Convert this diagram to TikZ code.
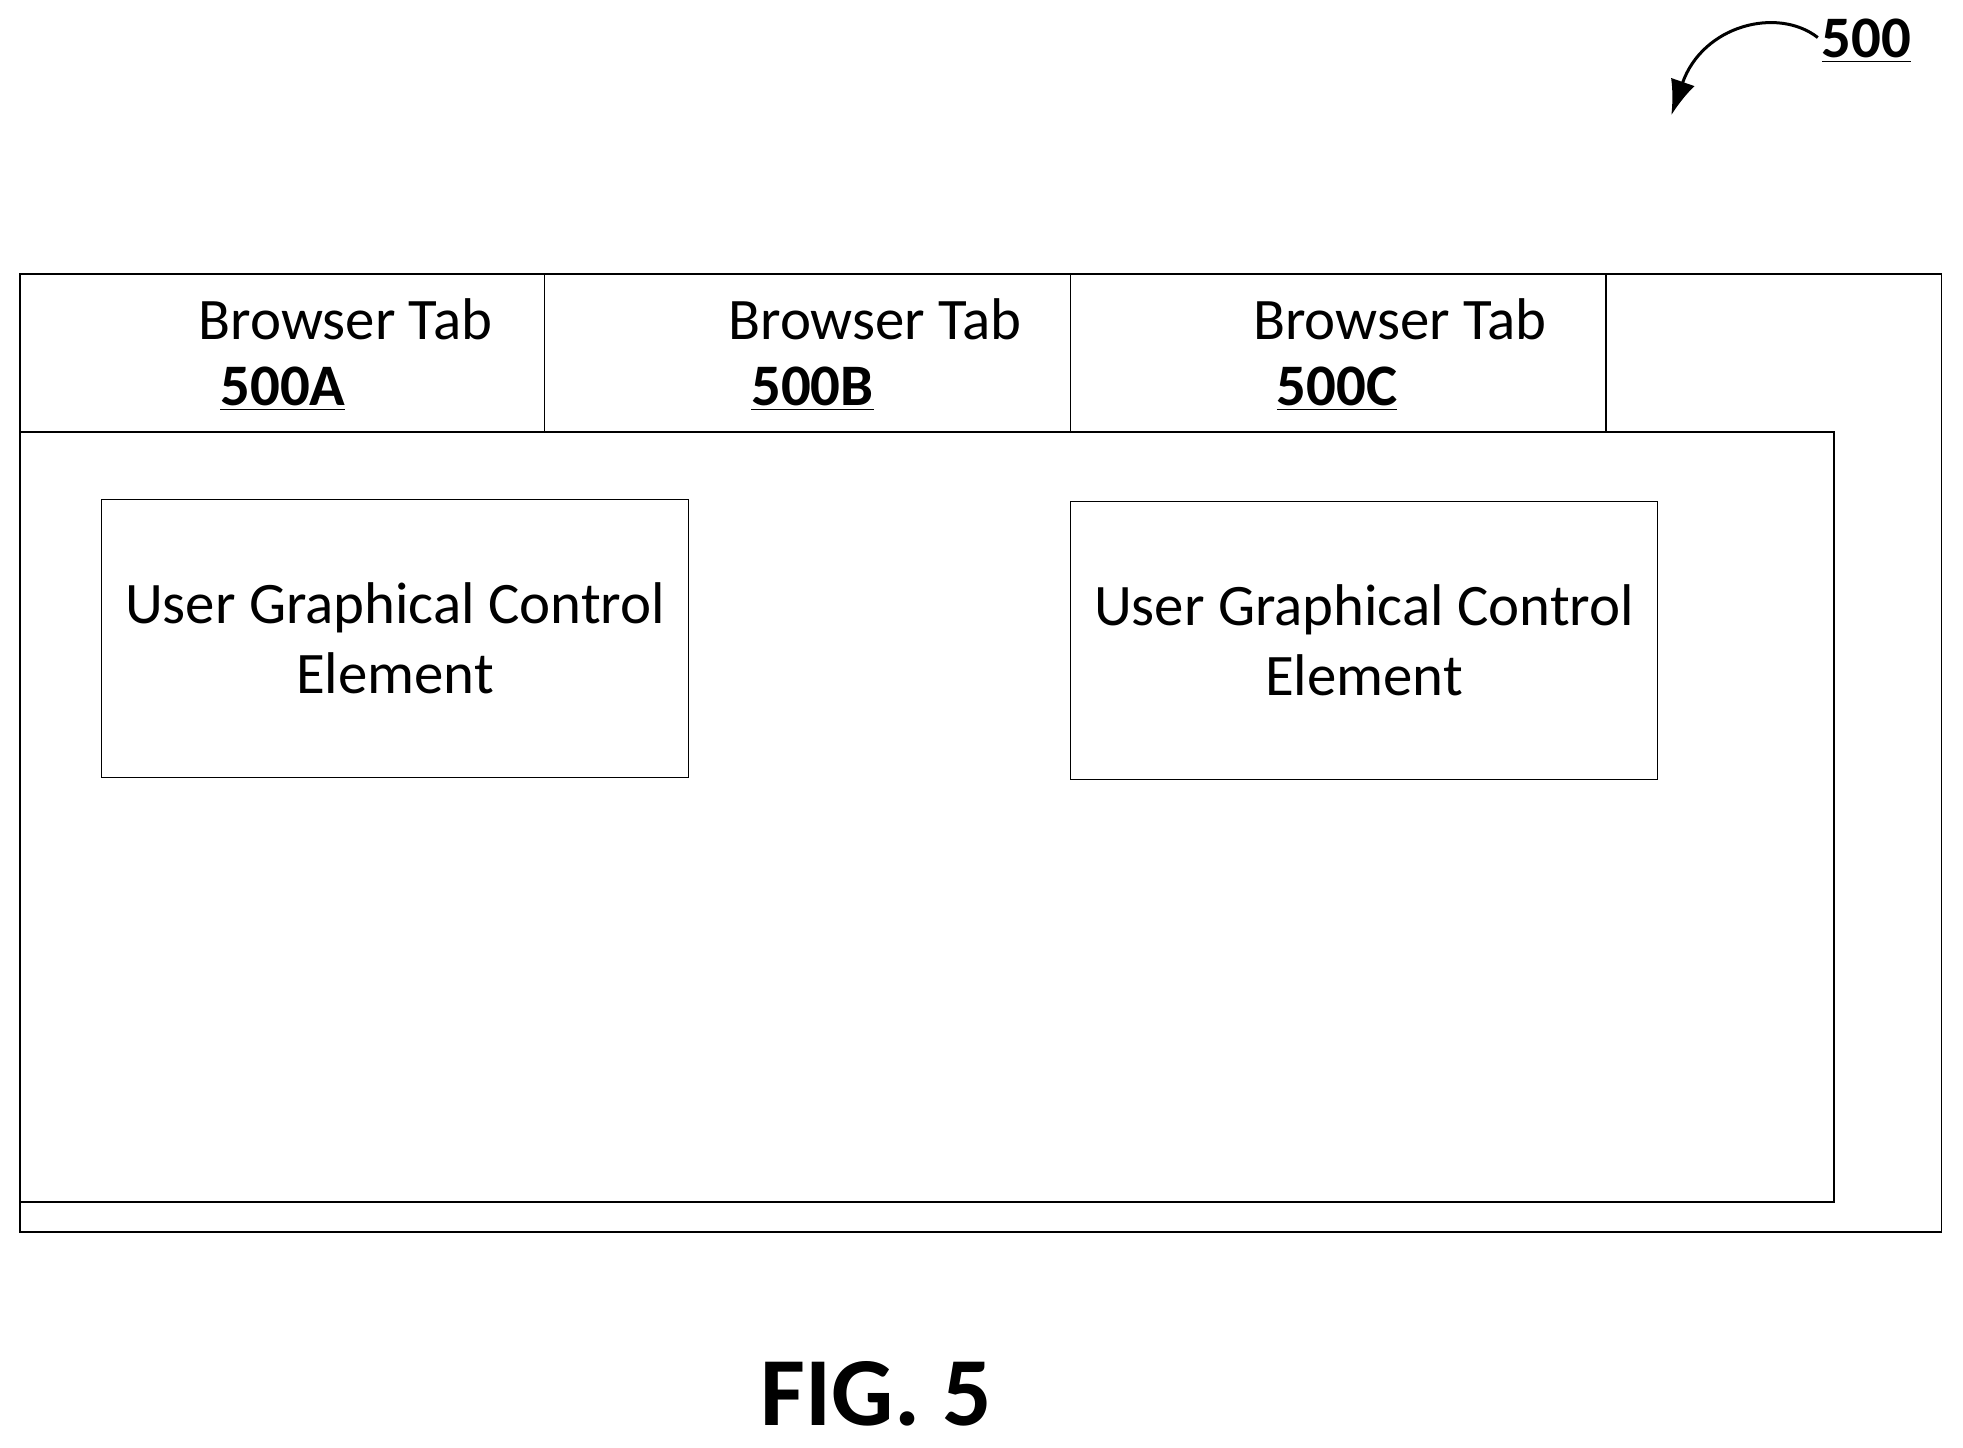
\documentclass[tikz,border=0pt]{standalone}
\usepackage{fontspec}
\setmainfont{Carlito}
\usetikzlibrary{arrows.meta}
\begin{document}
\begin{tikzpicture}[x=0.5pt,y=-0.5pt,
  box/.style={draw,line width=0.6pt},
  lbl/.style={font=\fontsize{23.5}{28}\selectfont,inner sep=0},
  num/.style={font=\fontsize{23.5}{28}\selectfont\bfseries,inner sep=0},
  ctl/.style={draw,line width=0.6pt,minimum width=234.5pt,minimum height=111pt,align=center,font=\fontsize{23.5}{28}\selectfont}]
\useasboundingbox (0,0) rectangle (1568,1156);
\draw[box] (16,219) rectangle (1551,984);
\draw[box] (16,345) rectangle (1465,960);
\draw[box] (435,219) -- (435,345);
\draw[box] (855,219) -- (855,345);
\draw[box] (1283,219) -- (1283,345);
\node[lbl] (ta) at (276,255) {Browser Tab};
\node[num] (na) at (226,311) {\underline{500A}};
\node[lbl] (tb) at (699,255) {Browser Tab};
\node[num] (nb) at (649,311) {\underline{500B}};
\node[lbl] (tc) at (1118,255) {Browser Tab};
\node[num] (nc) at (1068,311) {\underline{500C}};
\node[ctl] (c1) at (315.5,510) {User Graphical Control\\Element};
\node[ctl] (c2) at (1089.5,511.5) {User Graphical Control\\Element};
\node[font=\fontsize{39}{44}\selectfont\bfseries,inner sep=0] (fig) at (700,1113) {FIG. 5};
\node[num] (ref) at (1491,33) {\underline{500}};
\coordinate (s) at (1452,30);
\coordinate (e) at (1335,92);
\draw[line width=1.2pt,-{Latex[length=14pt,width=10pt]}] (s) .. controls (1420,5) and (1360,20) .. (e);
\end{tikzpicture}
\end{document}
